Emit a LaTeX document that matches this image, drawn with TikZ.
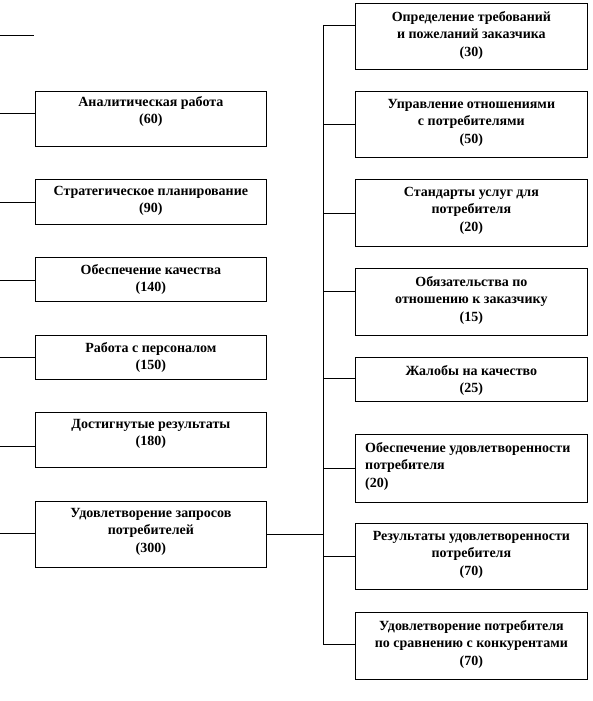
\documentclass[tikz,border=0pt]{standalone}
\usepackage{fontspec}
\setmainfont{Liberation Serif}
\begin{document}
\begin{tikzpicture}[x=1pt,y=-1pt,
  box/.style={draw,line width=0.8pt,minimum width=231pt,inner sep=0pt,anchor=north west},
  rbox/.style={draw,line width=0.8pt,minimum width=232pt,inner sep=0pt,anchor=north west},
  txt/.style={anchor=north,align=center,inner sep=0pt,font=\fontsize{14}{17.5}\selectfont\bfseries},
  ltxt/.style={anchor=north west,align=left,inner sep=0pt,font=\fontsize{14}{17.5}\selectfont\bfseries},
  conn/.style={line width=0.8pt}]
\useasboundingbox (0,0) rectangle (592,701);
% left boxes
\node[box,minimum height=55pt] (l1) at (35,91) {};
\node[box,minimum height=45pt] (l2) at (35,179) {};
\node[box,minimum height=44pt] (l3) at (35,257) {};
\node[box,minimum height=44pt] (l4) at (35,335) {};
\node[box,minimum height=55pt] (l5) at (35,412) {};
\node[box,minimum height=66pt] (l6) at (35,501) {};
\node[txt] (t1) at ([yshift=-5pt]l1.north) {Аналитическая работа\\(60)};
\node[txt] (t2) at ([yshift=-7pt]l2.north) {Стратегическое планирование\\(90)};
\node[txt] (t3) at ([yshift=-7pt]l3.north) {Обеспечение качества\\(140)};
\node[txt] (t4) at ([yshift=-7pt]l4.north) {Работа с персоналом\\(150)};
\node[txt] (t5) at ([yshift=-7pt]l5.north) {Достигнутые результаты\\(180)};
\node[txt] (t6) at ([yshift=-7pt]l6.north) {Удовлетворение запросов\\потребителей\\(300)};
% left stubs
\coordinate (s0a) at (0,35); \coordinate (s0b) at (34,35);
\coordinate (s1) at (0,113);
\coordinate (s2) at (0,202);
\coordinate (s3) at (0,280);
\coordinate (s4) at (0,357);
\coordinate (s5) at (0,446);
\coordinate (s6) at (0,533);
\draw[conn] (s0a) -- (s0b);
\draw[conn] (s1) -- (s1 -| l1.west);
\draw[conn] (s2) -- (s2 -| l2.west);
\draw[conn] (s3) -- (s3 -| l3.west);
\draw[conn] (s4) -- (s4 -| l4.west);
\draw[conn] (s5) -- (s5 -| l5.west);
\draw[conn] (s6) -- (s6 -| l6.west);
% right boxes
\node[rbox,minimum height=66pt] (r1) at (355,3) {};
\node[rbox,minimum height=66pt] (r2) at (355,91) {};
\node[rbox,minimum height=67pt] (r3) at (355,179) {};
\node[rbox,minimum height=67pt] (r4) at (355,268) {};
\node[rbox,minimum height=44pt] (r5) at (355,357) {};
\node[rbox,minimum height=68pt] (r6) at (355,434) {};
\node[rbox,minimum height=66pt] (r7) at (355,523) {};
\node[rbox,minimum height=67pt] (r8) at (355,612) {};
\node[txt] (u1) at ([yshift=-8pt]r1.north) {Определение требований\\и пожеланий заказчика\\(30)};
\node[txt] (u2) at ([yshift=-8pt]r2.north) {Управление отношениями\\с потребителями\\(50)};
\node[txt] (u3) at ([yshift=-8pt]r3.north) {Стандарты услуг для\\потребителя\\(20)};
\node[txt] (u4) at ([yshift=-8pt]r4.north) {Обязательства по\\отношению к заказчику\\(15)};
\node[txt] (u5) at ([yshift=-8pt]r5.north) {Жалобы на качество\\(25)};
\node[ltxt] (u6) at ([xshift=10pt,yshift=-8pt]r6.north west) {Обеспечение удовлетворенности\\потребителя\\(20)};
\node[txt] (u7) at ([yshift=-8pt]r7.north) {Результаты удовлетворенности\\потребителя\\(70)};
\node[txt] (u8) at ([yshift=-8pt]r8.north) {Удовлетворение потребителя\\по сравнению с конкурентами\\(70)};
% trunk
\coordinate (bus) at (323,534);
\coordinate (bt) at (323,25);
\coordinate (bb) at (323,644);
\draw[conn] (l6.east |- bus) -- (bus);
\draw[conn] (bt) -- (bb);
\coordinate (c1) at (323,25);
\coordinate (c2) at (323,124);
\coordinate (c3) at (323,213);
\coordinate (c4) at (323,291);
\coordinate (c5) at (323,378);
\coordinate (c6) at (323,468);
\coordinate (c7) at (323,556);
\coordinate (c8) at (323,644);
\draw[conn] (c1) -- (c1 -| r1.west);
\draw[conn] (c2) -- (c2 -| r2.west);
\draw[conn] (c3) -- (c3 -| r3.west);
\draw[conn] (c4) -- (c4 -| r4.west);
\draw[conn] (c5) -- (c5 -| r5.west);
\draw[conn] (c6) -- (c6 -| r6.west);
\draw[conn] (c7) -- (c7 -| r7.west);
\draw[conn] (c8) -- (c8 -| r8.west);
\end{tikzpicture}
\end{document}
